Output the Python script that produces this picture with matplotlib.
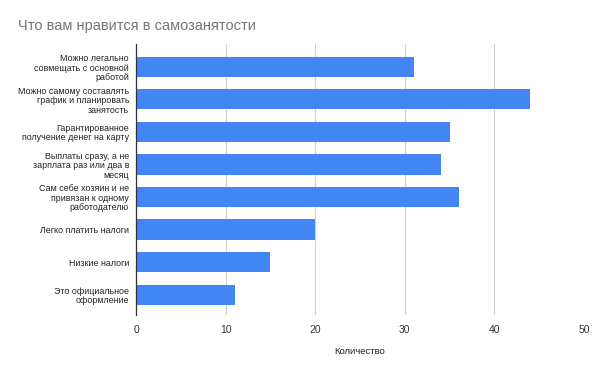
import matplotlib
matplotlib.use("Agg")
import matplotlib.pyplot as plt

plt.rcParams['font.family'] = ['Liberation Sans', 'DejaVu Sans']

# data
categories = [
    "Можно легально\nсовмещать с основной\nработой",
    "Можно самому составлять\nграфик и планировать\nзанятость",
    "Гарантированное\nполучение денег на карту",
    "Выплаты сразу, а не\nзарплата раз или два в\nмесяц",
    "Сам себе хозяин и не\nпривязан к одному\nработодателю",
    "Легко платить налоги",
    "Низкие налоги",
    "Это официальное\nоформление",
]
counts = [31, 44, 35, 34, 36, 20, 15, 11]
x_ticks = [0, 10, 20, 30, 40, 50]

fig = plt.figure(figsize=(6, 3.7), dpi=100)
ax = fig.add_axes([0.2267, 0.149, 0.7466, 0.732])

pos = list(range(len(categories)))
ax.barh(pos, counts, height=0.62, color='#4285F4', zorder=3)

ax.set_xlim(0, 50)
ax.set_ylim(7.62, -0.7)
ax.set_xticks(x_ticks)
ax.set_yticks(pos)
ax.set_yticklabels(categories, fontsize=6.4, linespacing=1.08, color='#222222')
ax.tick_params(axis='y', length=0, pad=5)
ax.tick_params(axis='x', length=0, pad=7, labelsize=7.5, labelcolor='#333333')

ax.grid(axis='x', color='#d0d0d0', linewidth=0.8, zorder=0)
for s in ['top', 'right', 'bottom']:
    ax.spines[s].set_visible(False)
ax.spines['left'].set_color('#333333')
ax.spines['left'].set_linewidth(0.9)
ax.spines['left'].set_zorder(4)

ax.set_xlabel("Количество", fontsize=6.8, color='#222222', labelpad=9)

fig.text(0.03, 0.93, "Что вам нравится в самозанятости", fontsize=10.5,
         color='#757575', ha='left', va='center')

fig.savefig("out.png", dpi=100)
